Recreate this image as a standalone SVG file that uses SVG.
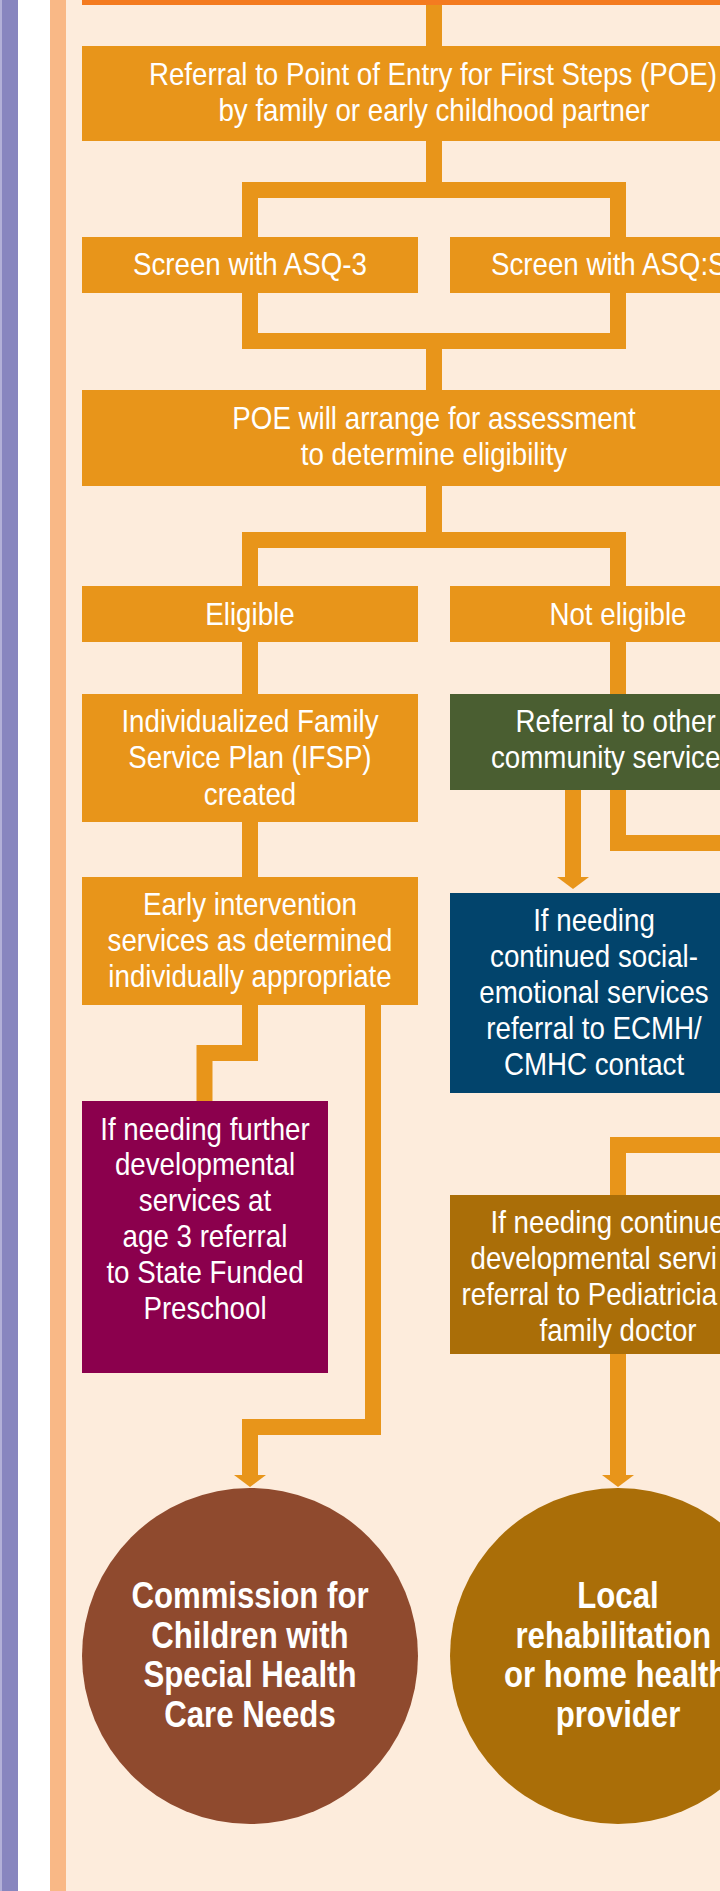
<svg xmlns="http://www.w3.org/2000/svg" width="720" height="1891" viewBox="0 0 720 1891">
<style>
.t{font-family:"Liberation Sans",Arial,sans-serif;font-size:32px;fill:#fff}
.b{font-weight:bold;font-size:36px}
.c{text-anchor:middle;transform-box:fill-box;transform-origin:50% 50%;transform:scaleX(0.866)}
.s{text-anchor:start;transform-box:fill-box;transform-origin:0% 50%;transform:scaleX(0.866)}
.or{fill:#e8951a}
.ln{fill:none;stroke:#e8951a;stroke-width:16;stroke-linejoin:miter;stroke-linecap:butt}
</style>
<defs>
<marker id="ah" viewBox="0 0 12 32" refX="0" refY="16" markerWidth="12" markerHeight="32" markerUnits="userSpaceOnUse" orient="auto">
<path d="M0,0 L12,16 L0,32 z" fill="#e8951a"/>
</marker>
</defs>
<g id="background">
<rect x="0" y="0" width="720" height="1891" fill="#fdecdc"/>
<rect x="0" y="0" width="2" height="1891" fill="#b3b1d8"/>
<rect x="2" y="0" width="16" height="1891" fill="#8886bf"/>
<rect x="18" y="0" width="32" height="1891" fill="#ffffff"/>
<rect x="50" y="0" width="16" height="1891" fill="#f9b886"/>
</g>
<g id="connectors">
<path class="ln" d="M434,0 V46"/>
<path class="ln" d="M434,141 V190"/>
<path class="ln" d="M250,237 V190 H618 V237"/>
<path class="ln" d="M250,293 V341 H618 V293"/>
<path class="ln" d="M434,341 V390"/>
<path class="ln" d="M434,486 V540"/>
<path class="ln" d="M250,586 V540 H618 V586"/>
<path class="ln" d="M250,642 V694"/>
<path class="ln" d="M618,642 V843 H720"/>
<path class="ln" d="M573,790 V877" marker-end="url(#ah)"/>
<path class="ln" d="M250,822 V877"/>
<path class="ln" d="M250,1005 V1053 H204.5 V1101"/>
<path class="ln" d="M373,1005 V1427 H250 V1475" marker-end="url(#ah)"/>
<path class="ln" d="M720,1145 H618 V1195"/>
<path class="ln" d="M618,1354 V1475" marker-end="url(#ah)"/>
</g>
<g id="n_previous">
<rect x="82" y="0" width="638" height="5" fill="#f47b20"/>
</g>
<g id="n_referral">
<rect class="or" x="82" y="46" width="638" height="95"/>
<text class="t c" x="433" y="85">Referral to Point of Entry for First Steps (POE)</text>
<text class="t c" x="434" y="121">by family or early childhood partner</text>
</g>
<g id="n_asq3">
<rect class="or" x="82" y="237" width="336" height="56"/>
<text class="t c" x="250" y="275">Screen with ASQ-3</text>
</g>
<g id="n_asqse">
<rect class="or" x="450" y="237" width="270" height="56"/>
<text class="t s" x="491" y="275">Screen with ASQ:S</text>
</g>
<g id="n_poe">
<rect class="or" x="82" y="390" width="638" height="96"/>
<text class="t c" x="434" y="429">POE will arrange for assessment</text>
<text class="t c" x="434" y="465">to determine eligibility</text>
</g>
<g id="n_eligible">
<rect class="or" x="82" y="586" width="336" height="56"/>
<text class="t c" x="250" y="625">Eligible</text>
</g>
<g id="n_noteligible">
<rect class="or" x="450" y="586" width="270" height="56"/>
<text class="t c" x="618" y="625">Not eligible</text>
</g>
<g id="n_ifsp">
<rect class="or" x="82" y="694" width="336" height="128"/>
<text class="t c" x="250" y="732">Individualized Family</text>
<text class="t c" x="250" y="768">Service Plan (IFSP)</text>
<text class="t c" x="250" y="805">created</text>
</g>
<g id="n_community">
<rect x="450" y="694" width="270" height="96" fill="#4a5e31"/>
<text class="t s" x="515.5" y="732">Referral to other</text>
<text class="t s" x="491" y="768">community service</text>
</g>
<g id="n_earlyintervention">
<rect class="or" x="82" y="877" width="336" height="128"/>
<text class="t c" x="250" y="915">Early intervention</text>
<text class="t c" x="250" y="951.5">services as determined</text>
<text class="t c" x="250" y="987">individually appropriate</text>
</g>
<g id="n_ecmh">
<rect x="450" y="893" width="270" height="200" fill="#02446c"/>
<text class="t c" x="594" y="931.5">If needing</text>
<text class="t c" x="594" y="967">continued social-</text>
<text class="t c" x="594" y="1003">emotional services</text>
<text class="t c" x="594" y="1039">referral to ECMH/</text>
<text class="t c" x="594" y="1075">CMHC contact</text>
</g>
<g id="n_preschool">
<rect x="82" y="1101" width="246" height="272" fill="#8b004d"/>
<text class="t c" x="205" y="1140">If needing further</text>
<text class="t c" x="205" y="1175.5">developmental</text>
<text class="t c" x="205" y="1211.5">services at</text>
<text class="t c" x="205" y="1247.5">age 3 referral</text>
<text class="t c" x="205" y="1283">to State Funded</text>
<text class="t c" x="205" y="1319">Preschool</text>
</g>
<g id="n_pediatrician">
<rect x="450" y="1195" width="270" height="159" fill="#aa6e08"/>
<text class="t s" x="490.5" y="1233">If needing continue</text>
<text class="t s" x="470.5" y="1269">developmental servi</text>
<text class="t s" x="461.5" y="1305">referral to Pediatricia</text>
<text class="t c" x="618" y="1341">family doctor</text>
</g>
<g id="n_cshcn">
<circle cx="250" cy="1656" r="168" fill="#8f4a2e"/>
<text class="t b c" x="250" y="1608">Commission for</text>
<text class="t b c" x="250" y="1648">Children with</text>
<text class="t b c" x="250" y="1687">Special Health</text>
<text class="t b c" x="250" y="1727">Care Needs</text>
</g>
<g id="n_rehab">
<circle cx="618" cy="1656" r="168" fill="#aa6e08"/>
<text class="t b c" x="618" y="1608">Local</text>
<text class="t b s" x="515.5" y="1648">rehabilitation</text>
<text class="t b s" x="504" y="1687">or home health</text>
<text class="t b c" x="618" y="1727">provider</text>
</g>
</svg>
